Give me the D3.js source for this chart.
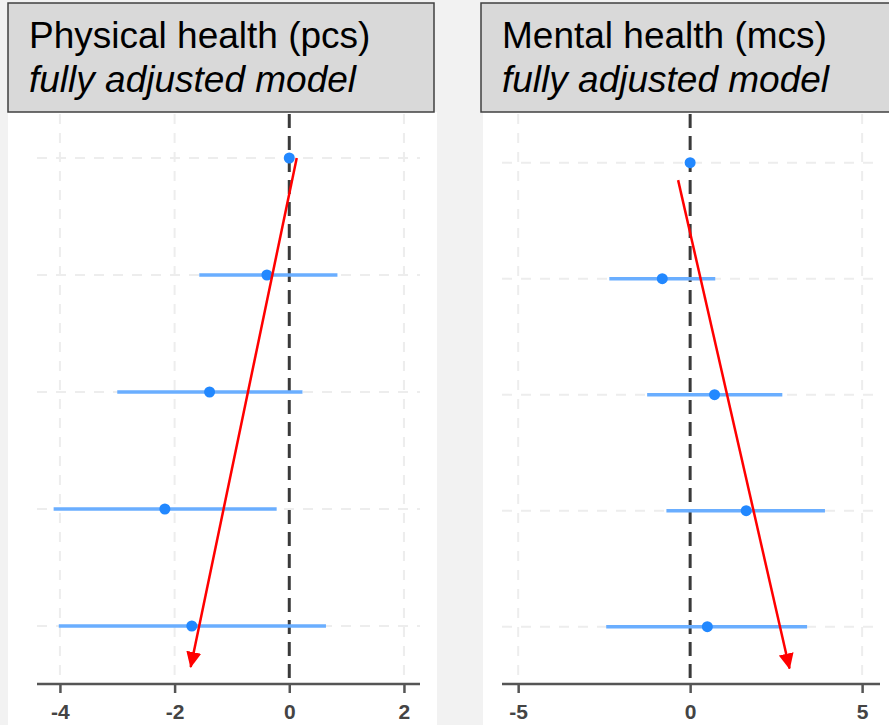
<!DOCTYPE html>
<html>
<head>
<meta charset="utf-8">
<script src="https://cdn.jsdelivr.net/npm/d3@7"></script>
<style>
  html, body { margin: 0; padding: 0; background: #f2f2f2; }
  svg { display: block; }
</style>
</head>
<body>
<svg id="chart" width="889" height="725"></svg>
<script>
// ---- data ----
const rows = [1, 2, 3, 4, 5];
const pcsEst = [0, -0.39, -1.39, -2.17, -1.70];
const pcsLo  = [null, -1.57, -3.00, -4.11, -4.02];
const pcsHi  = [null, 0.84, 0.23, -0.22, 0.64];
const mcsEst = [0, -0.81, 0.71, 1.63, 0.50];
const mcsLo  = [null, -2.35, -1.25, -0.69, -2.44];
const mcsHi  = [null, 0.73, 2.68, 3.92, 3.40];
const pcsTicks = [-4, -2, 0, 2];
const mcsTicks = [-5, 0, 5];
const pcsTitle = ["Physical health (pcs)", "fully adjusted model"];
const mcsTitle = ["Mental health (mcs)", "fully adjusted model"];
// trend arrows: [x0, row0, x1, row1] in data units
const pcsArrow = [0.13, 1.0, -1.72, 5.35];
const mcsArrow = [-0.35, 1.15, 2.89, 5.36];

// ---- layout ----
const svg = d3.select("#chart");
svg.append("rect").attr("width", 889).attr("height", 725).attr("fill", "#f2f2f2");

const defs = svg.append("defs");
defs.append("marker")
  .attr("id", "arrowhead")
  .attr("markerUnits", "userSpaceOnUse")
  .attr("markerWidth", 16).attr("markerHeight", 16)
  .attr("viewBox", "0 0 16 16")
  .attr("refX", 15).attr("refY", 8)
  .attr("orient", "auto")
  .append("path").attr("d", "M0,0.5 L16,8 L0,15.5 Z").attr("fill", "#ff0000");

const panels = [
  { est: pcsEst, lo: pcsLo, hi: pcsHi, ticks: pcsTicks, title: pcsTitle, arrow: pcsArrow,
    white: [8, 437], box: [8, 434], textX: 29,
    domain: [-4.4, 2.28], range: [37, 420], yRange: [158, 626] },
  { est: mcsEst, lo: mcsLo, hi: mcsHi, ticks: mcsTicks, title: mcsTitle, arrow: mcsArrow,
    white: [483, 889], box: [481, 900], textX: 502,
    domain: [-5.47, 5.52], range: [502, 880], yRange: [162.7, 626.7] }
];

const axisY = 684;
const plotTop = 114;

panels.forEach(p => {
  const g = svg.append("g");
  // white panel
  g.append("rect")
    .attr("x", p.white[0]).attr("y", 112)
    .attr("width", p.white[1] - p.white[0]).attr("height", 725 - 112)
    .attr("fill", "#ffffff");

  const x = d3.scaleLinear().domain(p.domain).range(p.range);
  const y = d3.scaleLinear().domain([1, 5]).range(p.yRange);

  // vertical grid
  g.selectAll(".vgrid").data(p.ticks.filter(t => t !== 0)).join("line")
    .attr("x1", d => x(d)).attr("x2", d => x(d))
    .attr("y1", plotTop).attr("y2", axisY)
    .attr("stroke", "#ededed").attr("stroke-width", 2)
    .attr("stroke-dasharray", "10,9");

  // horizontal grid
  g.selectAll(".hgrid").data(rows).join("line")
    .attr("x1", p.range[0]).attr("x2", p.range[1])
    .attr("y1", d => y(d)).attr("y2", d => y(d))
    .attr("stroke", "#ededed").attr("stroke-width", 2)
    .attr("stroke-dasharray", "10,9");

  // zero reference line
  g.append("line")
    .attr("x1", x(0)).attr("x2", x(0))
    .attr("y1", plotTop).attr("y2", axisY)
    .attr("stroke", "#3a3a3a").attr("stroke-width", 3)
    .attr("stroke-dasharray", "14,8");

  // CI segments
  const ci = rows.map((r, i) => ({ r, lo: p.lo[i], hi: p.hi[i], est: p.est[i] }));
  g.selectAll(".ci").data(ci.filter(d => d.lo !== null)).join("line")
    .attr("x1", d => x(d.lo)).attr("x2", d => x(d.hi))
    .attr("y1", d => y(d.r)).attr("y2", d => y(d.r))
    .attr("stroke", "#6aaeff").attr("stroke-width", 3.5);

  // points
  g.selectAll(".pt").data(ci).join("circle")
    .attr("cx", d => x(d.est)).attr("cy", d => y(d.r)).attr("r", 5.5)
    .attr("fill", "#2288ff");

  // x axis
  const axis = d3.axisBottom(x).tickValues(p.ticks).tickFormat(d => String(d))
    .tickSize(9).tickPadding(11).tickSizeOuter(0);
  const ag = g.append("g").attr("transform", `translate(0,${axisY})`).call(axis);
  ag.select(".domain").attr("stroke", "#555").attr("stroke-width", 2.5)
    .attr("d", `M${p.range[0]},0H${p.range[1]}`);
  ag.selectAll(".tick line").attr("stroke", "#555").attr("stroke-width", 2.5);
  ag.selectAll(".tick text")
    .attr("fill", "#444")
    .attr("font-family", "Liberation Sans, Arial, sans-serif")
    .attr("font-size", 21).attr("font-weight", "bold");

  // title box
  g.append("rect")
    .attr("x", p.box[0]).attr("y", 3)
    .attr("width", p.box[1] - p.box[0]).attr("height", 109)
    .attr("fill", "#d9d9d9").attr("stroke", "#404040").attr("stroke-width", 1.5);
  g.append("text")
    .attr("x", p.textX).attr("y", 48)
    .attr("font-family", "Liberation Sans, Arial, sans-serif")
    .attr("font-size", 37).attr("fill", "#000")
    .text(p.title[0]);
  g.append("text")
    .attr("x", p.textX).attr("y", 92)
    .attr("font-family", "Liberation Sans, Arial, sans-serif")
    .attr("font-size", 37).attr("font-style", "italic").attr("fill", "#000")
    .text(p.title[1]);

  // red trend arrow
  g.append("line")
    .attr("x1", x(p.arrow[0])).attr("y1", y(p.arrow[1]))
    .attr("x2", x(p.arrow[2])).attr("y2", y(p.arrow[3]))
    .attr("stroke", "#ff0000").attr("stroke-width", 2.5)
    .attr("marker-end", "url(#arrowhead)");
});
</script>
</body>
</html>
